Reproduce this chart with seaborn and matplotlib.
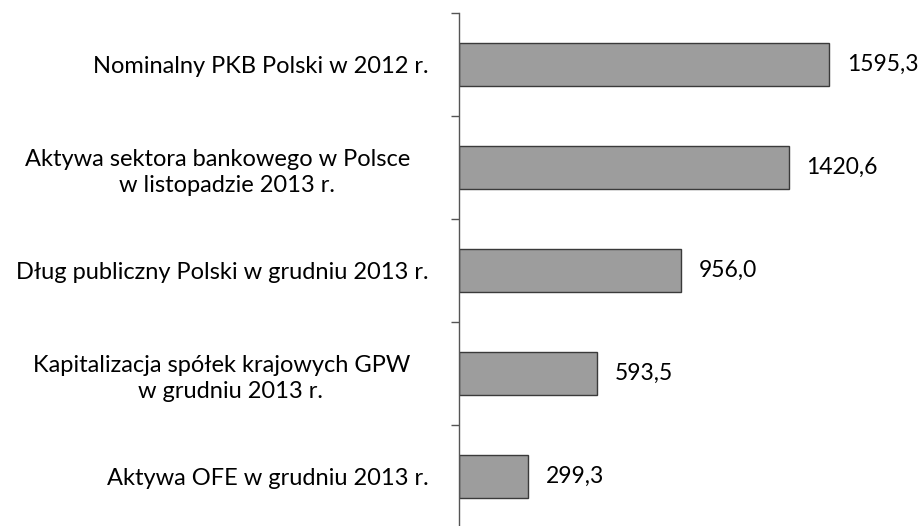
import numpy as np
import pandas as pd
import matplotlib
matplotlib.use("Agg")
import matplotlib.pyplot as plt
import seaborn as sns
from matplotlib.ticker import FixedLocator

categories = [
    "Nominalny PKB Polski w 2012 r.",
    "Aktywa sektora bankowego w Polsce   \nw listopadzie 2013 r.",
    "Dług publiczny Polski w grudniu 2013 r.",
    "Kapitalizacja spółek krajowych GPW   \nw grudniu 2013 r.",
    "Aktywa OFE w grudniu 2013 r.",
]
values = [1595.3, 1420.6, 956.0, 593.5, 299.3]

df = pd.DataFrame({"kategoria": categories, "wartosc": values})

sns.set_theme(style="white")
plt.rcParams["font.family"] = ["Lato", "DejaVu Sans"]

fig = plt.figure(figsize=(9.21, 5.26), dpi=100)
ax = fig.add_axes([459 / 921, -2 / 526, (880 - 459) / 921, (528 - 13) / 526])

sns.barplot(data=df, y="kategoria", x="wartosc", orient="h", ax=ax,
            color="#9d9d9d", edgecolor="#3a3a3a", linewidth=1.0,
            width=0.41, saturation=1)

ax.set_xlim(0, 1815)
ax.set_ylim(len(categories) - 0.5, -0.5)
ax.set_xlabel("")
ax.set_ylabel("")
ax.set_xticks([])

for side in ["top", "right", "bottom"]:
    ax.spines[side].set_visible(False)
ax.spines["left"].set_color("#555555")
ax.spines["left"].set_linewidth(1.0)

# category names at bar centres, tick marks at category boundaries
ax.yaxis.set_minor_locator(FixedLocator(np.arange(-0.5, len(categories), 1.0)))
ax.tick_params(axis="y", which="major", length=0, pad=22, labelsize=17,
               labelcolor="#000000")
ax.tick_params(axis="y", which="minor", length=6, width=1.0, color="#555555",
               direction="out", left=True)
for lab in ax.get_yticklabels():
    lab.set_horizontalalignment("right")
    lab.set_multialignment("center")
    lab.set_linespacing(1.35)

for i, v in enumerate(values):
    ax.text(v + 76, i, f"{v:.1f}".replace(".", ","), va="center", ha="left",
            fontsize=16.5, color="#000000")

fig.savefig("out.png", dpi=100)
